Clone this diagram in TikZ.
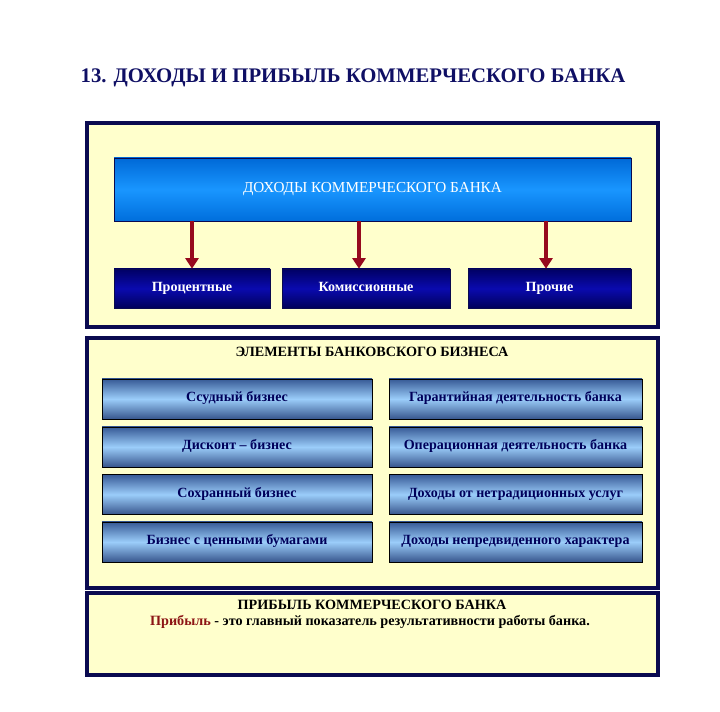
\documentclass[tikz,border=0pt]{standalone}
\usepackage{fontspec}
\setmainfont{Liberation Serif}
\usetikzlibrary{arrows.meta,positioning}
\definecolor{navyline}{RGB}{10,10,80}
\definecolor{panelfill}{RGB}{255,255,204}
\definecolor{arrowred}{RGB}{150,10,30}
\definecolor{titleblue}{RGB}{15,15,100}
\definecolor{elemtext}{RGB}{0,0,90}
\definecolor{profitred}{RGB}{140,20,20}
\tikzstyle{panel}=[draw=navyline,line width=4pt,fill=panelfill,inner sep=0pt]
\tikzstyle{headbox}=[draw=navyline,top color={rgb,255:red,0;green,105;blue,215},bottom color={rgb,255:red,0;green,110;blue,220},middle color={rgb,255:red,25;green,150;blue,255},text=white,font=\fontsize{13}{15}\selectfont,inner sep=0pt]
\tikzstyle{kindbox}=[draw=navyline,top color={rgb,255:red,0;green,0;blue,100},bottom color={rgb,255:red,0;green,0;blue,90},middle color={rgb,255:red,10;green,10;blue,175},text=white,font=\fontsize{12}{14}\selectfont\bfseries,inner sep=0pt,text height=1.5ex,text depth=0.4ex]
\tikzstyle{elembox}=[draw=black,top color={rgb,255:red,55;green,90;blue,150},bottom color={rgb,255:red,55;green,85;blue,140},middle color={rgb,255:red,155;green,205;blue,250},text=elemtext,font=\fontsize{12}{14}\selectfont\bfseries,inner sep=0pt,minimum height=1.2cm,text height=1.5ex,text depth=0.4ex]
\tikzstyle{arr}=[draw=arrowred,line width=3pt,-{Triangle[length=9pt,width=11pt]},arrowred]
\tikzstyle{caption}=[font=\fontsize{12.1}{14}\selectfont\bfseries,inner sep=0pt]

\begin{document}
\begin{tikzpicture}[x=0.03cm,y=-0.03cm]
    \useasboundingbox (0,0) rectangle (720,712);
    % Title
    \node[font=\fontsize{17.7}{21}\selectfont\bfseries,text=titleblue,inner sep=0pt] (title) at (353,78) {13. ДОХОДЫ И ПРИБЫЛЬ КОММЕРЧЕСКОГО БАНКА};
    % The three panels
    \foreach \name/\cy/\h in {incpanel/225/204, elempanel/463/250, profpanel/634/82}
        \node[panel,minimum width=571*0.03cm,minimum height=\h*0.03cm] (\name) at (372.5,\cy) {};
    % Incomes and their kinds
    \node[headbox,minimum width=517*0.03cm,minimum height=63*0.03cm] (income) at (372.5,189.5) {ДОХОДЫ КОММЕРЧЕСКОГО БАНКА};
    \foreach \cx/\w/\name/\txt in {192/156/perc/Процентные, 366/168/comm/Комиссионные,
                                  549.5/163/other/Прочие}
        \node[kindbox,minimum width=\w*0.03cm,minimum height=39*0.03cm] (\name) at (\cx,288.5) {\txt};
    \foreach \dest/\dx in {perc/0,comm/-7,other/-3.5}
        \path[arr] ([xshift=\dx*0.03cm]income.south -| \dest.north) -- ([xshift=\dx*0.03cm]\dest.north);
    % Elements of banking business
    \node[caption] (elemtitle) at (372,352) {ЭЛЕМЕНТЫ БАНКОВСКОГО БИЗНЕСА};
    \foreach \cy/\name/\txt in {399/loan/Ссудный бизнес, 447/disc/Дисконт – бизнес,
                               494.5/safe/Сохранный бизнес, 542/secur/Бизнес с ценными бумагами}
        \node[elembox,minimum width=270*0.03cm] (\name) at (237,\cy) {\txt};
    \foreach \cy/\name/\txt in {399/guar/Гарантийная деятельность банка, 447/oper/Операционная деятельность банка,
                               494.5/nontrad/Доходы от нетрадиционных услуг, 542/unexp/Доходы непредвиденного характера}
        \node[elembox,minimum width=253*0.03cm] (\name) at (515.5,\cy) {\txt};
    % Profit
    \node[caption] (proftitle) at (372,605) {ПРИБЫЛЬ КОММЕРЧЕСКОГО БАНКА};
    \node[caption] (profdef) at (370,622) {\textcolor{profitred}{Прибыль} - это главный показатель результативности работы банка.};
\end{tikzpicture}
\end{document}
